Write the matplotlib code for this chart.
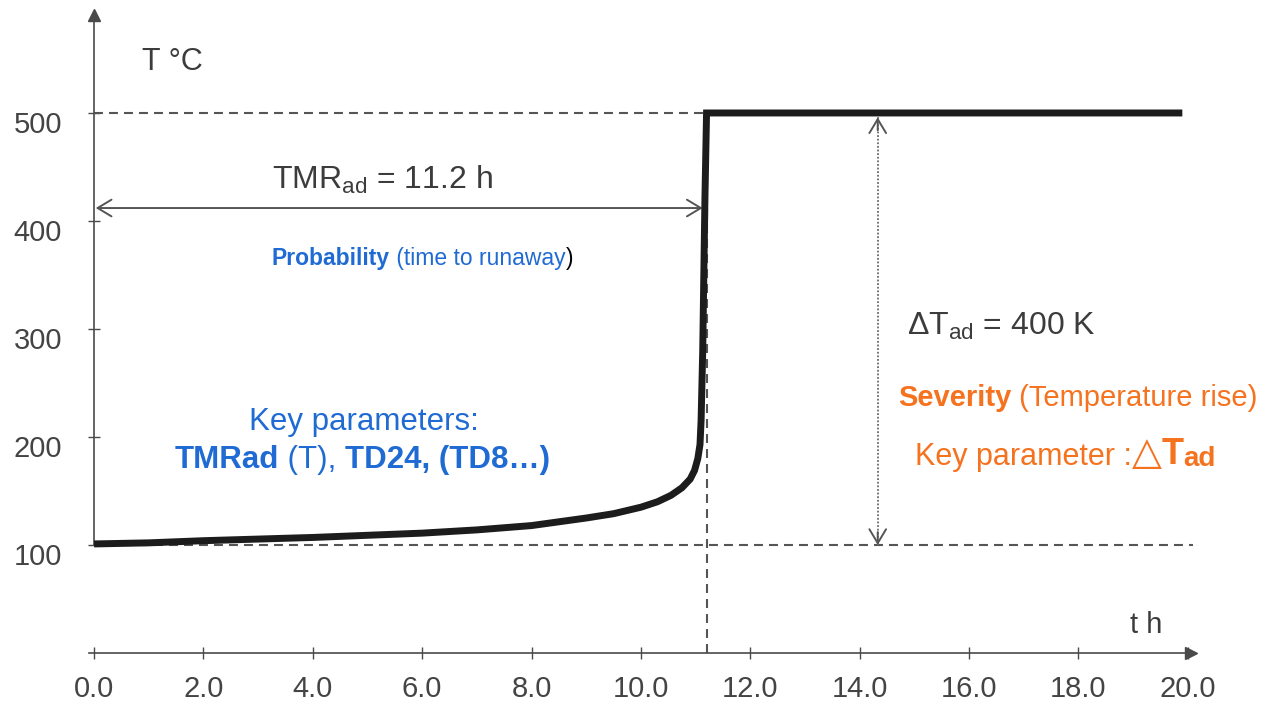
import matplotlib
matplotlib.use('Agg')
import matplotlib.pyplot as plt
import matplotlib.transforms as mtransforms

# adiabatic runaway: temperature (°C) against time (h)
time_h = [0.0, 1.0, 2.0, 3.0, 4.0, 5.0, 6.0, 7.0, 8.0, 9.0, 9.5, 10.0,
          10.3, 10.55, 10.75, 10.9, 10.98, 11.04, 11.08, 11.1, 11.13, 11.17,
          11.2, 19.9]
temp_c = [101, 102, 104, 105.5, 107, 109, 111, 114, 118, 125, 129, 135,
          140, 146, 153, 161, 169, 180, 193, 215, 280, 420,
          500, 500]

x_ticks = [0, 2, 4, 6, 8, 10, 12, 14, 16, 18, 20]
y_ticks = [100, 200, 300, 400, 500]

T_START = 100
T_FINAL = 500
TMR_AD = 11.2
DELTA_T_AD = T_FINAL - T_START

BLUE = '#1f6bd3'
ORANGE = '#f5721f'
GREY = '#3c3c3c'

plt.rcParams['font.family'] = ['Liberation Sans', 'DejaVu Sans']
plt.rcParams['mathtext.fontset'] = 'custom'
plt.rcParams['mathtext.rm'] = 'Liberation Sans'
plt.rcParams['mathtext.it'] = 'Liberation Sans:italic'
plt.rcParams['mathtext.bf'] = 'Liberation Sans:bold'


def rich_line(ax, x, y, parts):
    """Write text pieces of different colour/weight/size one after another on a baseline."""
    prev = None
    for text, color, weight, size in parts:
        kw = dict(color=color, fontweight=weight, fontsize=size, ha='left')
        if prev is None:
            prev = ax.text(x, y, text, va='baseline', **kw)
        else:
            prev = ax.annotate(text, xy=(1, 0), xycoords=prev, va='bottom', **kw)
    return prev


fig = plt.figure(figsize=(12.66, 7.08), dpi=100)
ax = fig.add_axes([0, 0, 1, 1])
ax.set_xlim(-1.72, 21.43)
ax.set_ylim(-50.9, 604.6)

# axes drawn through the origin, with arrow heads
for side in ('top', 'right'):
    ax.spines[side].set_visible(False)
ax.spines['left'].set_position(('data', 0))
ax.spines['bottom'].set_position(('data', 0))
ax.spines['left'].set_bounds(T_START, 591)
ax.spines['bottom'].set_bounds(-0.1, 20.05)
for side in ('left', 'bottom'):
    ax.spines[side].set_color('#4a4a4a')
    ax.spines[side].set_linewidth(1.2)
ax.plot(20.05, 0, marker='>', ms=9, color='#4a4a4a', clip_on=False)
ax.plot(0, 591, marker='^', ms=9, color='#4a4a4a', clip_on=False)

ax.set_xticks(x_ticks)
ax.set_xticklabels([f'{v:.1f}' for v in x_ticks])
ax.set_yticks(y_ticks)
ax.set_yticklabels([str(v) for v in y_ticks])
ax.tick_params(direction='inout', length=8, width=1, color='#4a4a4a',
               labelsize=21, labelcolor='#444444')
ax.tick_params(axis='x', pad=12)
ax.tick_params(axis='y', pad=19)
shift = mtransforms.ScaledTranslation(0, -0.09, fig.dpi_scale_trans)
for lbl in ax.get_yticklabels():
    lbl.set_transform(lbl.get_transform() + shift)

ax.text(1.43, 547, 'T °C', ha='center', va='center', fontsize=22, color=GREY)
ax.text(19.23, 26, 't h', ha='center', va='center', fontsize=21, color=GREY)

# reference lines
dash = dict(color='#555555', lw=1.5, dashes=(4.3, 2.9), zorder=2)
ax.plot([0, TMR_AD], [T_FINAL, T_FINAL], **dash)
ax.plot([0, 20.1], [T_START, T_START], **dash)
ax.plot([TMR_AD, TMR_AD], [0, T_FINAL], **dash)

# temperature curve
ax.plot(time_h, temp_c, color='#1c1c1c', lw=5, solid_joinstyle='miter',
        solid_capstyle='butt', zorder=4)

# time to maximum rate arrow
tmr_y = 412
ax.annotate('', xy=(TMR_AD - 0.07, tmr_y), xytext=(0.03, tmr_y),
            arrowprops=dict(arrowstyle='<->,head_length=0.5,head_width=0.3',
                            lw=1.4, color='#555555', shrinkA=0, shrinkB=0,
                            mutation_scale=20))
ax.text(3.25, 429.6, f'TMR$_{{\\rm ad}}$ = {TMR_AD:.1f} h', fontsize=23,
        color=GREY, ha='left', va='baseline')

# adiabatic temperature rise arrow (dotted shaft, open heads)
dt_x = 14.33
ax.plot([dt_x, dt_x], [T_START, T_START + DELTA_T_AD], color='#6a6a6a', lw=1.3,
        ls=(0, (1, 1)), zorder=2)
head = dict(arrowstyle='->,head_length=0.5,head_width=0.3', lw=1.4,
            color='#555555', shrinkA=0, shrinkB=0, mutation_scale=20)
ax.annotate('', xy=(dt_x, T_FINAL - 4), xytext=(dt_x, T_FINAL - 16), arrowprops=head)
ax.annotate('', xy=(dt_x, T_START), xytext=(dt_x, T_START + 12), arrowprops=head)
ax.text(14.86, 294.4, f'ΔT$_{{\\rm ad}}$ = {DELTA_T_AD} K', fontsize=23,
        color=GREY, ha='left', va='baseline')

# probability side (blue)
rich_line(ax, 3.25, 359.3, [('Probability', BLUE, 'bold', 16.5),
                            (' (time to runaway', BLUE, 'normal', 16.5),
                            (')', 'black', 'normal', 16.5)])
ax.text(4.94, 206.5, 'Key parameters:', color=BLUE, fontsize=22.5,
        ha='center', va='baseline')
rich_line(ax, 1.48, 171.3, [('TMRad', BLUE, 'bold', 22.5),
                            (' (T), ', BLUE, 'normal', 22.5),
                            ('TD24, (TD8…)', BLUE, 'bold', 22.5)])

# severity side (orange)
rich_line(ax, 14.70, 228.7, [('Severity', ORANGE, 'bold', 21),
                             (' (Temperature rise)', ORANGE, 'normal', 21)])
rich_line(ax, 15.01, 174, [('Key parameter :', ORANGE, 'normal', 22),
                           ('△', ORANGE, 'bold', 28),
                           ('T', ORANGE, 'bold', 26),
                           ('ad', ORANGE, 'bold', 20)])

fig.savefig('out.png', dpi=100, facecolor='white')
